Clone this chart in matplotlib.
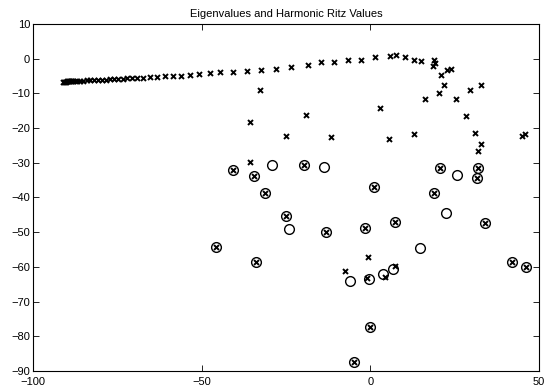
import numpy as np
from matplotlib import pyplot as plt

plt.rcParams['font.family'] = ['Liberation Sans', 'DejaVu Sans']
plt.rcParams['font.size'] = 8

# eigenvalues (real, imag) -- the curve near the top
curve_re = [-91.2, -90.9, -90.6, -90.3, -90.0, -89.7, -89.4, -89.1, -88.8, -88.4,
            -88.0, -87.5, -87.0, -86.0, -85.1, -84.1, -83.1, -82.0, -80.7, -79.5,
            -78.3, -77.2, -76.0, -74.8, -73.4, -72.0, -70.6, -69.2, -67.3, -65.3,
            -63.1, -61.0, -58.6, -56.0, -53.4, -50.7, -47.6, -44.5, -40.7, -36.6,
            -32.4, -27.9, -23.5, -18.6, -14.5, -10.9, -6.7, -2.8, 1.5, 5.7,
            7.7, 10.4, 12.9, 15.0, 19.0, 19.2, 18.6, 21.0, 22.8, 24.0]
curve_im = [-6.6, -6.6, -6.6, -6.6, -6.55, -6.55, -6.5, -6.5, -6.5, -6.45,
            -6.4, -6.4, -6.35, -6.3, -6.3, -6.25, -6.2, -6.15, -6.1, -6.05,
            -6.0, -5.95, -5.9, -5.8, -5.75, -5.7, -5.6, -5.55, -5.45, -5.35,
            -5.25, -5.1, -5.0, -4.85, -4.65, -4.4, -4.1, -3.9, -3.7, -3.6,
            -3.4, -2.9, -2.3, -1.7, -1.0, -1.0, -0.4, -0.5, 0.4, 0.8,
            1.1, 0.5, -0.3, -0.6, -0.5, -1.1, -2.2, -4.6, -3.4, -2.9]

# other eigenvalues
other_re = [-32.6, 16.3, 20.3, 21.8, 25.5, 29.5, 32.8, 2.8, 28.5, -35.6,
            -19.1, -25.0, -11.6, -35.8, 5.6, 12.9, 30.9, 32.8, 32.0, 45.0,
            45.8, -7.4, -0.6, -1.0, 4.5, 7.3,
            -40.8, -34.6, -31.2, -19.8, -24.9, -13.1, -1.5, -45.7, 20.8, 31.8,
            31.5, 1.0, 18.8, 7.4, 34.1, -33.8, 0.0, -4.7, 42.0, 46.3]
other_im = [-9.0, -11.5, -9.9, -7.5, -11.5, -9.1, -7.5, -14.3, -16.6, -18.1,
            -16.3, -22.4, -22.7, -29.9, -23.2, -21.7, -21.4, -24.6, -26.7, -22.4,
            -21.7, -61.1, -57.2, -63.3, -62.8, -59.6,
            -32.2, -33.7, -38.7, -30.6, -45.2, -50.0, -48.8, -54.2, -31.5, -31.5,
            -34.4, -37.0, -38.7, -47.2, -47.4, -58.5, -77.4, -87.5, -58.6, -59.9]

# harmonic Ritz values
ritz_re = [-40.8, -34.6, -31.2, -19.8, -24.9, -13.1, -1.5, -45.7, 20.8, 31.8,
           31.5, 1.0, 18.8, 7.4, 34.1, -33.8, 0.0, -4.7, 42.0, 46.3,
           -29.2, -13.7, -24.0, 25.7, 22.5, 14.8, -6.1, -0.3, 3.7, 6.6]
ritz_im = [-32.2, -33.7, -38.7, -30.6, -45.2, -50.0, -48.8, -54.2, -31.5, -31.5,
           -34.4, -37.0, -38.7, -47.2, -47.4, -58.5, -77.4, -87.5, -58.6, -59.9,
           -30.6, -31.2, -49.0, -33.6, -44.5, -54.6, -64.2, -63.5, -62.1, -60.7]

eig_re = curve_re + other_re
eig_im = curve_im + other_im

fig = plt.figure(figsize=(5.47, 3.89), dpi=100)
ax = fig.add_axes([0.0603, 0.0463, 0.925, 0.892])

ax.plot(eig_re, eig_im, 'kx', markersize=3.6, markeredgewidth=1.4)
ax.plot(ritz_re, ritz_im, 'ko', markersize=7.0, markerfacecolor='none',
        markeredgewidth=1.0)

ax.set_xlim(-100, 50)
ax.set_ylim(-90, 10)
ax.set_xticks([-100, -50, 0, 50])
ax.set_yticks(np.arange(-90, 11, 10))
ax.tick_params(direction='in', length=4, width=0.6, top=True, right=True,
               labelsize=8)
ax.tick_params(axis='x', pad=4)
ax.tick_params(axis='y', pad=2)
for s in ax.spines.values():
    s.set_linewidth(0.8)
ax.set_title('Eigenvalues and Harmonic Ritz Values', fontsize=8, pad=5)

plt.savefig('out.png', dpi=100)
